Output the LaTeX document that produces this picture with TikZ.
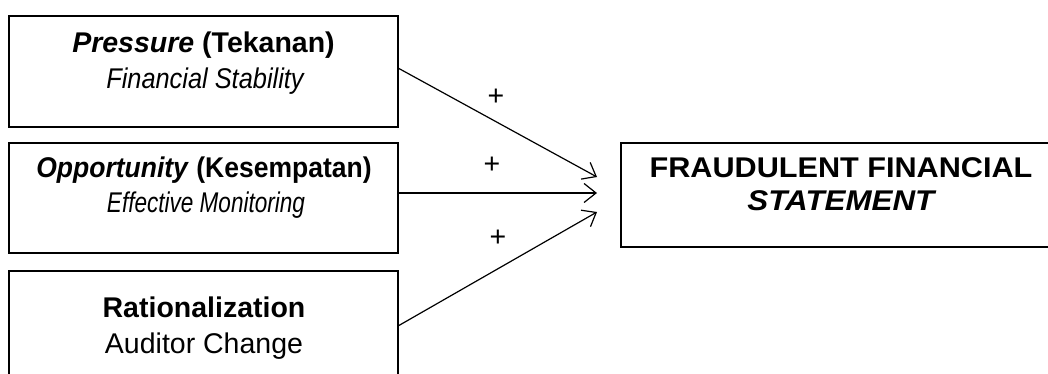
\documentclass[tikz,border=0pt]{standalone}
\usepackage{fontspec}
\setmainfont{Liberation Sans}
\newfontfamily\narrowfont{Liberation Sans}[FakeStretch=0.86]
\usetikzlibrary{arrows.meta}

\tikzset{
  label/.style={anchor=base, inner sep=0pt, font=\fontsize{28.5}{34}\selectfont},
  sublabel/.style={anchor=base, inner sep=0pt, font=\fontsize{28.5}{34}\selectfont\narrowfont\itshape},
  sign/.style={inner sep=0pt, font=\fontsize{28.5}{34}\selectfont},
  frame/.style={line width=1.1pt},
  link/.style={line width=1.2pt, -{Straight Barb[length=12pt,width=19pt,line width=1.2pt]}}
}

\begin{document}
\begin{tikzpicture}[x=1pt,y=-1pt]
\useasboundingbox (0,0) rectangle (1048,374);

% three source constructs
\draw[frame] (9,16) rectangle (398,127);
\draw[frame] (9,143) rectangle (398,253);
\draw[frame] (9,390) -- (9,271) -- (398,271) -- (398,390);
\coordinate (p) at (398,68);
\coordinate (o) at (398,193);
\coordinate (r) at (398,326);

\node[label]    (ptitle) at (203.5,53) {\textbf{\textit{Pressure}} \textbf{(Tekanan)}};
\node[sublabel] (psub)   at (205,89)   {\scalebox{1.035}[1]{Financial Stability}};

\node[label]    (otitle) at (204,177) {\scalebox{0.93}[1]{\textbf{\textit{Opportunity}} \textbf{(Kesempatan)}}};
\node[sublabel] (osub)   at (206,212) {\scalebox{0.92}[1]{Effective Monitoring}};

\node[label]    (rtitle) at (204,317) {\textbf{Rationalization}};
\node[label]    (rsub)   at (204,353) {Auditor Change};

% outcome construct
\draw[frame] (1070,143) -- (621,143) -- (621,247) -- (1070,247);
\node[label] (ftitle) at (841,178) {\scalebox{1.075}[1]{\textbf{FRAUDULENT FINANCIAL}}};
\node[label] (fsub)   at (842,210) {\scalebox{1.1}[1]{\textbf{\textit{STATEMENT}}}};

% arrow targets
\coordinate (t1) at (597,177);
\coordinate (t2) at (597,193);
\coordinate (t3) at (597,212);

\draw[link] (p) -- (t1);
\draw[link] (o) -- (t2);
\draw[link] (r) -- (t3);

\node[sign] (s1) at (496,97)  {+};
\node[sign] (s2) at (492,165) {+};
\node[sign] (s3) at (498,238) {+};
\end{tikzpicture}
\end{document}
